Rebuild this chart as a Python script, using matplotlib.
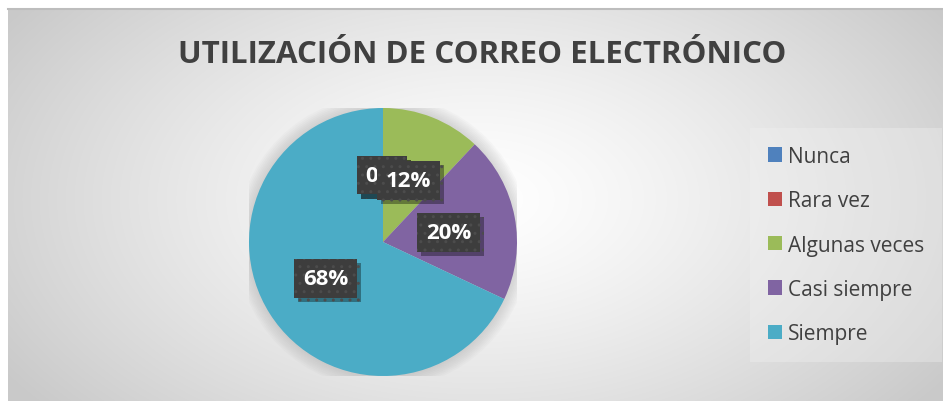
"""Pie chart: utilizacion de correo electronico."""

import numpy as np
import matplotlib.pyplot as plt
from matplotlib import patheffects as pe
from matplotlib.patches import Patch

W, H = 943, 402

categories = ["Nunca", "Rara vez", "Algunas veces", "Casi siempre", "Siempre"]
values = [0, 0, 12, 20, 68]
labels = ["0%", "0%", "12%", "20%", "68%"]
colors = ["#4f81bd", "#c0504d", "#9bbb59", "#8064a2", "#4bacc6"]
title = "UTILIZACIÓN DE CORREO ELECTRÓNICO"

# where Excel dropped each data label (pie units, radius = 1)
label_pos = [(-0.01, 0.50), (-0.01, 0.50), (0.19, 0.46), (0.49, 0.07), (-0.43, -0.27)]

TEXT = "#404040"
FONT = ["Open Sans", "DejaVu Sans"]


def main() -> None:
    plt.rcParams["font.family"] = FONT
    fig = plt.figure(figsize=(W / 100, H / 100), dpi=100)
    fig.patch.set_facecolor("white")

    # chart area with radial grey gradient
    x0, top = 8, 10
    bg = fig.add_axes([x0 / W, 0, (W - x0) / W, (H - top) / H])
    bg.set_axis_off()
    yy, xx = np.mgrid[0:H - top, 0:W - x0]
    d = np.sqrt(((xx - 470) / 560.0) ** 2 + ((yy - 190) / 330.0) ** 2)
    t = np.clip(d, 0, 1) ** 1.3
    g = 1.0 - t * (1.0 - 0.79)
    bg.imshow(np.dstack([g, g, g]), aspect="auto", extent=(0, 1, 0, 1), origin="upper")
    bg.plot([0, 1], [1, 1], color="#bdbdbd", lw=1.5, transform=bg.transAxes, clip_on=False)

    fig.text(0.511, 0.862, title, ha="center", va="center", fontsize=22.5,
             weight="bold", color=TEXT)

    # pie
    cx, cy, r = 383, 243, 134
    ax = fig.add_axes([(cx - r) / W, (H - cy - r) / H, 2 * r / W, 2 * r / H])
    ax.set_axis_off()

    # soft glow around the pie
    for k in range(8):
        ax.add_patch(plt.Circle((0, 0), 1.0 + 0.012 * (k + 1), color="#a0a0a0",
                                alpha=0.05, lw=0, zorder=0))

    ax.pie(values, colors=colors, startangle=90, counterclock=False, radius=1,
           wedgeprops=dict(linewidth=0))
    ax.set_xlim(-1, 1)
    ax.set_ylim(-1, 1)
    ax.set_aspect("equal")

    for lab, (lx, ly) in zip(labels, label_pos):
        txt = ax.text(lx, ly, lab, ha="center", va="center", fontsize=16,
                      weight="bold", color="white",
                      bbox=dict(boxstyle="square,pad=0.4", fc="#3d3d3d",
                                ec="#4c4c4c", lw=0, hatch=".."),
                      zorder=5)
        txt.get_bbox_patch().set_path_effects(
            [pe.SimplePatchShadow(offset=(3, -3), shadow_rgbFace="black", alpha=0.35),
             pe.Normal()])

    handles = [Patch(facecolor=c, edgecolor="none") for c in colors]
    leg = fig.legend(handles, categories, loc="upper left",
                     bbox_to_anchor=(746 / W, 1 - 125 / H), frameon=True,
                     labelcolor=TEXT, handlelength=0.68, handleheight=0.68,
                     handletextpad=0.3, labelspacing=1.12, borderpad=0.55,
                     prop={"size": 15})
    leg.get_frame().set_facecolor("#f2f2f2")
    leg.get_frame().set_alpha(0.35)
    leg.get_frame().set_edgecolor("none")
    leg.get_frame().set_boxstyle("square")

    fig.savefig("out.png", dpi=100)
    plt.close(fig)


if __name__ == "__main__":
    main()
